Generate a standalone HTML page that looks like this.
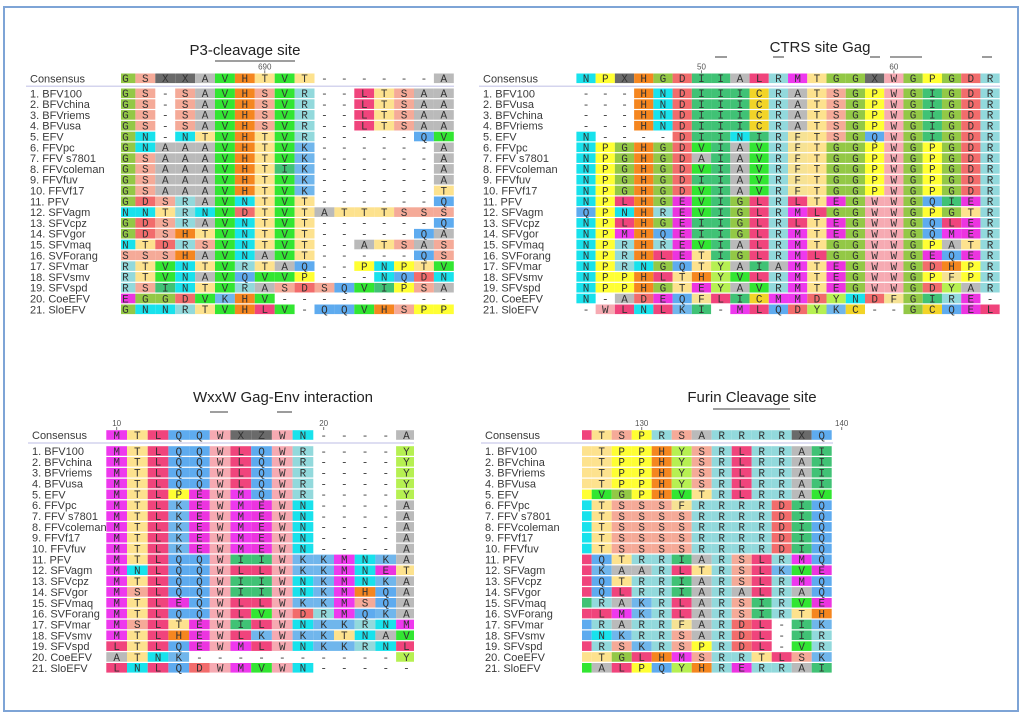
<!DOCTYPE html>
<html><head><meta charset="utf-8">
<style>
html,body{margin:0;padding:0;background:#fff;}
svg{display:block;}
.nm{font-family:"Liberation Sans",sans-serif;font-size:11px;fill:#3a3a3a;}
.ttl{font-family:"Liberation Sans",sans-serif;font-size:15px;fill:#222;}
.aa{font-family:"Liberation Mono",monospace;font-size:11px;fill:#333;}
.rl{font-family:"Liberation Sans",sans-serif;font-size:8px;fill:#555;}
</style></head>
<body>
<svg id="fig" width="1024" height="717" viewBox="0 0 1024 717">
<rect x="4" y="7" width="1014" height="704" fill="none" stroke="#7ea4d6" stroke-width="2"/>
</svg>
<script>
const taxa = ["Consensus","1. BFV100","2. BFVchina","3. BFVriems","4. BFVusa","5. EFV","6. FFVpc","7. FFV s7801","8. FFVcoleman","9. FFVfuv","10. FFVf17","11. PFV","12. SFVagm","13. SFVcpz","14. SFVgor","15. SFVmaq","16. SVForang","17. SFVmar","18. SFVsmv","19. SFVspd","20. CoeEFV","21. SloEFV"];
const taxaCtrs = ["Consensus","1. BFV100","2. BFVusa","3. BFVchina","4. BFVriems","5. EFV","6. FFVpc","7. FFV s7801","8. FFVcoleman","9. FFVfuv","10. FFVf17","11. PFV","12. SFVagm","13. SFVcpz","14. SFVgor","15. SFVmaq","16. SVForang","17. SFVmar","18. SFVsmv","19. SFVspd","20. CoeEFV","21. SloEFV"];
const taxaBottom = ["Consensus","1. BFV100","2. BFVchina","3. BFVriems","4. BFVusa","5. EFV","6. FFVpc","7. FFV s7801","8. FFVcoleman","9. FFVf17","10. FFVfuv","11. PFV","12. SFVagm","13. SFVcpz","14. SFVgor","15. SFVmaq","16. SVForang","17. SFVmar","18. SFVsmv","19. SFVspd","20. CoeEFV","21. SloEFV"];
const seqP3 = ["GSXXAVHTVT------A","GS-SAVHSVR--LTSAA","GS-SAVHSVR--LTSAA","GS-SAVHSVR--LTSAA","GS-SAVHSVR--LTSAA","GN-NTVHTVR-----QV","GNAAAVHTVK------A","GSAAAVHTVK------A","GSAAAVHTIK------A","GSAAAVHTVK------A","GSAAAVHTVK------T","GDSRAVNTVT------Q","NNTRNVDTVTATTTSSS","GDSRAVNTVT------Q","GDSHTVNTVT-----QA","NTDRSVNTVT--ATSAS","SSSHAVNAVT-----QS","RTVNTVRTAQ--PNPTV","RTVNAVQVVP---NQDN","RSINTVRASDSQVIPSA","EGGDVKHV---------","GNNRTVHLV-QQVHSPP"];
const seqCtrs = ["NPXHGDIIALRMTGGXWGPGDR","---HNDIIICRATSGPWGIGDR","---HNDIIICRATSGPWGIGDR","---HNDIIICRATSGPWGIGDR","---HNDIIICRATSGPWGIGDR","N----DIINIRFTSGQWGIGDR","NPGHGDVIAVRFTGGPWGPGDR","NPGHGDAIAVRFTGGPWGPGDR","NPGHGDVIAVRFTGGPWGPGDR","NPGHGDIIAVRFTGGPWGPGDR","NPGHGDVIAVRFTGGPWGPGDR","NPLHGEVIGLRLTEGWWGQIER","QPNHREVIGLRMLGGWWGPGTR","NPLHGEIIGLRLTEGWWGQLER","NPMHQEIIGLRMTEGWWGQMER","NPRHREVIALRMTGGWWGPATR","NPRHLETIGLRMLGGWWGEQER","NPRNGQTYAIAMTEGWWGDHPR","NPPHLTHYVLRMTEGWWGPFPR","NPPHGTEYAVRMTEGWWGDYAR","N-ADEQFLICMMDYNDFGIRE-","-WLNLKI-MLQDYKC--GCQEL"];
const seqWxxw = ["MTLQQWXZWN----A","MTLQQWLQWR----Y","MTLQQWLQWR----Y","MTLQQWLQWR----Y","MTLQQWLQWR----Y","MTLPEWMQWR----Y","MTLKEWMEWN----A","MTLKEWMEWN----A","MTLKEWMEWN----A","MTLKEWMEWN----A","MTLKEWMEWN----A","MTLQQWIIWKKMNKA","MNLQQWLLWKKMNET","MTLQQWIIWNKMNKA","MSLQQWIIWNKMHQA","MTLEQWLLWKKMSQA","MTLQQWLVWDRMQKA","MSLTEWILWNKKRNM","MTLHEWLKWKKTNAV","LTLQEWMLWNKKRNL","ATNK----------Y","LNLQDWMVWN-----"];
const seqFurin = ["LTSPRSARRRRXQ","TTPPHYSRLRRAI","TTPPHYSRLRRAI","TTPPHYSRLRRAI","TTPPHYSRLRRAI","PVGPHVTRLRRAV","NTSSSFRRRRDIQ","NTSSSSRRRRDIQ","NTSSSSRRRRDIQ","NTSSSSRRRRDIQ","NTSSSSRRRRDIQ","LQTRRIARSLRMQ","LKAARLTRSLKVE","LQTRRIARSLRMQ","LQLRRIARALRAQ","IRAKRLARSIRVE","LLMKRLARSIRTH","QRARRFARDL-IK","QNKRRSARDL-IR","LRSKRSPRDL-VR","TTGLHMSRRTLSK","VALPQYHRERRAI"];
const rulerP3 = [{label:"690", col:7}];
const rulerCtrs = [{label:"50", col:6},{label:"60", col:16}];
const rulerWxxw = [{label:"10", col:0},{label:"20", col:10}];
const rulerFurin = [{label:"130", col:3},{label:"140", col:13}];

const colors = {G:"#93c846",S:"#f5aa98",A:"#bababa",V:"#32e632",H:"#f5861f",T:"#fde28e",R:"#92d9dc",K:"#70b6ec",N:"#18e2ec",D:"#f26c6c",Q:"#5eabef",L:"#f0447c",P:"#ffff33",I:"#40c275",E:"#ec34e0",M:"#ee38ee",C:"#f2d428",F:"#f6e294",W:"#f6aab2",Y:"#b6f052",X:"#6a6a6a",Z:"#6a6a6a"};

const svg = document.getElementById('fig');
const NS = "http://www.w3.org/2000/svg";

function panel(p){
  const g = document.createElementNS(NS,'g');
  
  
  svg.appendChild(g);
  const add=(tag,attrs)=>{const e=document.createElementNS(NS,tag);for(const k in attrs)e.setAttribute(k,attrs[k]);g.appendChild(e);return e;};
  const t = add('text',{x:p.titleX,y:p.titleY,'text-anchor':'middle',class:'ttl'});
  t.textContent = p.title;
  
  
  p.bars.forEach(b=>{
    const l=add('line',{x1:b[0],x2:b[1],y1:p.barY,y2:p.barY,stroke:'#666','stroke-width':1.3});
    
    
  });
  const colX = c => p.x0 + c*p.w;
  const rowY = r => r===0 ? p.consY : p.row1Y + (r-1)*p.pitch;
  p.ruler.forEach(rr=>{
    const cx = colX(rr.col)+p.w/2;
    const tx=add('text',{x:cx,y:rowY(0)-9,'text-anchor':'middle',class:'rl'});
    tx.textContent=rr.label;
    
    
    add('line',{x1:cx,x2:cx,y1:rowY(0)-8,y2:rowY(0)-5,stroke:'#777','stroke-width':1});
  });
  const sep=add('line',{x1:p.nameX-4,x2:p.xEnd,y1:rowY(0)+8,y2:rowY(0)+8,stroke:'#d4d4ee','stroke-width':1.5});
  
  
  p.seqs.forEach((s,r)=>{
    const y = rowY(r);
    const nm = add('text',{x:p.nameX,y:y+4,class:'nm'});
    nm.textContent = p.names[r];
    
    
    for(let c=0;c<s.length;c++){
      const ch=s[c];
      let x1=colX(c), x2=colX(c+1);
      if(x1<p.clipL) x1=p.clipL;
      if(x2>p.xEnd) x2=p.xEnd;
      if(x2<=x1) continue;
      if(ch!=='-'){
        const rc=add('rect',{x:x1,y:y-4.8,width:x2-x1,height:9.6,fill:colors[ch]||'#ccc'});
        
        
      }
      const cx=colX(c)+p.w/2;
      if(cx<p.clipL+2) continue;
      const tx=add('text',{x:cx,y:y+3.8,'text-anchor':'middle',class:'aa'});
      if(ch==='X'||ch==='Z') tx.setAttribute('fill','#aaa');
      tx.textContent = ch;
      
      
    }
  });
}

panel({key:'p3-cleavage',title:'P3-cleavage site',titleX:245,titleY:55,bars:[[215,295]],barY:61,
  seqs:seqP3,names:taxa,ruler:rulerP3,x0:115.5,w:19.9,clipL:121,xEnd:454,consY:78.3,row1Y:93.3,pitch:10.8,nameX:30});
panel({key:'ctrs-gag',title:'CTRS site Gag',titleX:820,titleY:52,bars:[[715,727],[773,784],[870,880],[890,922],[982,992]],barY:57,
  seqs:seqCtrs,names:taxaCtrs,ruler:rulerCtrs,x0:576.4,w:19.24,clipL:576,xEnd:1000,consY:78.3,row1Y:93.3,pitch:10.8,nameX:483});
panel({key:'wxxw',title:'WxxW Gag-Env interaction',titleX:283,titleY:402,bars:[[210,228],[277,292]],barY:412,
  seqs:seqWxxw,names:taxaBottom,ruler:rulerWxxw,x0:106.3,w:20.7,clipL:106,xEnd:414,consY:435,row1Y:451,pitch:10.84,nameX:32});
panel({key:'furin',title:'Furin Cleavage site',titleX:752,titleY:402,bars:[[713,790]],barY:409,
  seqs:seqFurin,names:taxaBottom,ruler:rulerFurin,x0:571.7,w:20,clipL:582,xEnd:833,consY:435,row1Y:451,pitch:10.84,nameX:485});
</script>
</body></html>
